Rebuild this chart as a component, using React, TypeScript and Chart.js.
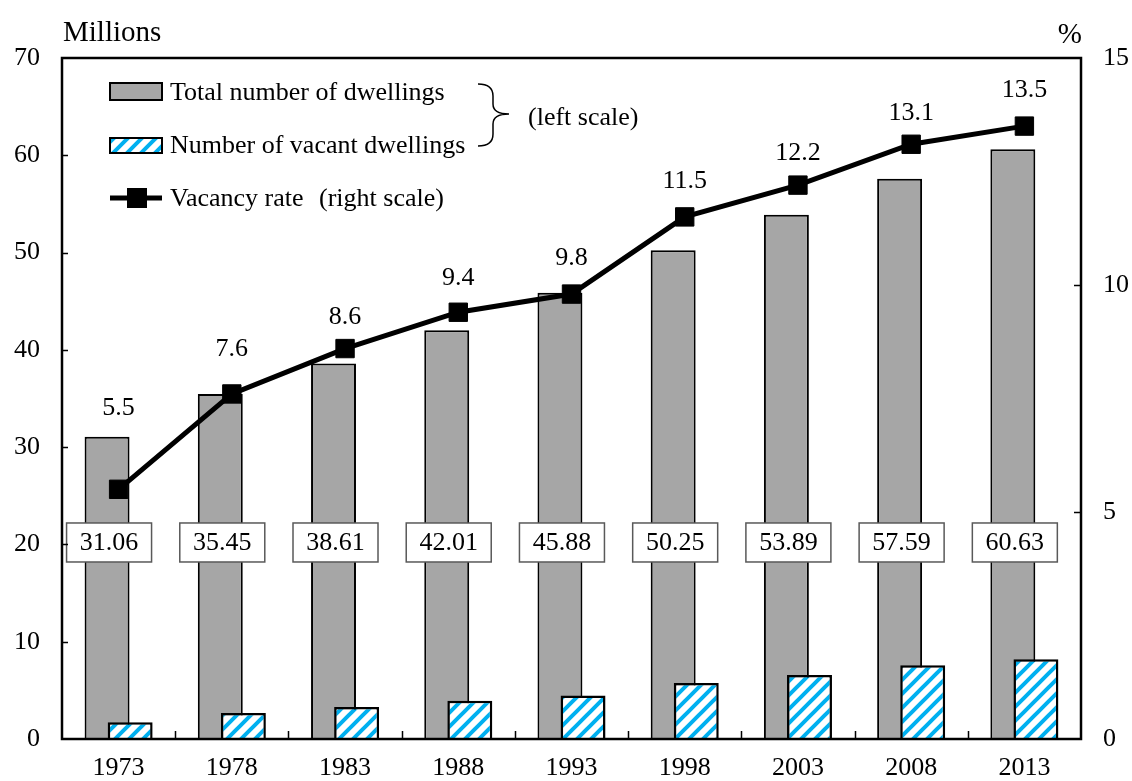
import React, { useEffect, useRef } from 'react';
import { Chart, registerables } from 'chart.js';

Chart.register(...registerables);

const years = [1973, 1978, 1983, 1988, 1993, 1998, 2003, 2008, 2013];
const totalDwellings = [31.06, 35.45, 38.61, 42.01, 45.88, 50.25, 53.89, 57.59, 60.63];
const vacantDwellings = [1.72, 2.68, 3.3, 3.94, 4.48, 5.76, 6.59, 7.57, 8.2];
const vacancyRate = [5.5, 7.6, 8.6, 9.4, 9.8, 11.5, 12.2, 13.1, 13.5];

const leftAxis = { min: 0, max: 70, step: 10, title: 'Millions' };
const rightAxis = { min: 0, max: 15, step: 5, title: '%' };

const legendLabels = ['Total number of dwellings', 'Number of vacant dwellings', 'Vacancy rate', '(right scale)'];
const braceLabel = '(left scale)';

const FONT_FAMILY = "'Liberation Serif', 'Times New Roman', serif";
const FONT = `26px ${FONT_FAMILY}`;
const TITLE_FONT = `29px ${FONT_FAMILY}`;
const GRAY = '#A6A6A6';
const BLUE = '#00B0F0';

// year spacing between categories and the sideways shift of each bar series (fraction of a category)
const YEAR_STEP = 5;
const BAR_SHIFT = 0.102;
const BAR_FRACTION = 0.397;

function makeHatch(): CanvasPattern | string {
  const s = 14;
  const c = document.createElement('canvas');
  c.width = s;
  c.height = s;
  const g = c.getContext('2d');
  if (!g) return '#ffffff';
  g.fillStyle = '#ffffff';
  g.fillRect(0, 0, s, s);
  g.strokeStyle = BLUE;
  g.lineWidth = 4;
  g.lineCap = 'square';
  for (const o of [-s, 0, s]) {
    g.beginPath();
    g.moveTo(o - 2, s + 2);
    g.lineTo(o + s + 2, -2);
    g.stroke();
  }
  const p = g.createPattern(c, 'repeat');
  return p || '#ffffff';
}

export default function App() {
  const ref = useRef<HTMLCanvasElement | null>(null);

  useEffect(() => {
    const canvas = ref.current;
    if (!canvas) return;
    const hatch = makeHatch();
    const firstYear = years[0];
    const lastYear = years[years.length - 1];
    const half = YEAR_STEP / 2;
    const shift = BAR_SHIFT * YEAR_STEP;

    const hiddenBarAxis = (delta: number) => ({
      type: 'linear',
      display: false,
      position: 'bottom',
      offset: false,
      min: firstYear - half + delta,
      max: lastYear + half + delta,
      grid: { display: false, offset: false },
      ticks: { stepSize: YEAR_STEP, includeBounds: false },
    });

    const overlay = {
      id: 'overlay',
      afterDatasetsDraw(chart: any) {
        const ctx = chart.ctx;
        const { left, right, top, bottom } = chart.chartArea;
        const yL = chart.scales.y;
        const yR = chart.scales.y1;
        const x = chart.scales.x;
        ctx.save();

        // value boxes for total dwellings
        const grayMeta = chart.getDatasetMeta(0);
        ctx.font = FONT;
        ctx.textAlign = 'center';
        ctx.textBaseline = 'middle';
        const boxY = yL.getPixelForValue(20.2);
        grayMeta.data.forEach((bar: any, i: number) => {
          const w = 85;
          const h = 39;
          const cx = bar.x + 2;
          ctx.fillStyle = '#ffffff';
          ctx.fillRect(cx - w / 2, boxY - h / 2, w, h);
          ctx.strokeStyle = '#595959';
          ctx.lineWidth = 1.5;
          ctx.strokeRect(cx - w / 2, boxY - h / 2, w, h);
          ctx.fillStyle = '#000000';
          ctx.fillText(totalDwellings[i].toFixed(2), cx, boxY + 1);
        });

        // vacancy rate labels
        const lineMeta = chart.getDatasetMeta(2);
        const offsets = [81, 45, 31, 34, 36, 36, 32, 31, 36];
        lineMeta.data.forEach((pt: any, i: number) => {
          ctx.fillText(vacancyRate[i].toFixed(1), pt.x, pt.y - offsets[i]);
        });

        // frame
        ctx.strokeStyle = '#000000';
        ctx.lineWidth = 2.5;
        ctx.strokeRect(left, top, right - left, bottom - top);

        // inward ticks
        ctx.lineWidth = 1.5;
        ctx.beginPath();
        for (let v = leftAxis.min + leftAxis.step; v < leftAxis.max; v += leftAxis.step) {
          const py = Math.round(yL.getPixelForValue(v)) + 0.5;
          ctx.moveTo(left, py);
          ctx.lineTo(left + 6, py);
        }
        for (let v = rightAxis.min + rightAxis.step; v < rightAxis.max; v += rightAxis.step) {
          const py = Math.round(yR.getPixelForValue(v)) + 0.5;
          ctx.moveTo(right, py);
          ctx.lineTo(right - 7, py);
        }
        for (let i = 0; i < years.length - 1; i++) {
          const px = Math.round((x.getPixelForValue(i) + x.getPixelForValue(i + 1)) / 2) + 0.5;
          ctx.moveTo(px, bottom);
          ctx.lineTo(px, bottom - 8);
        }
        ctx.stroke();

        // axis titles
        ctx.fillStyle = '#000000';
        ctx.font = TITLE_FONT;
        ctx.textBaseline = 'alphabetic';
        ctx.textAlign = 'left';
        ctx.fillText(leftAxis.title, left + 1, 41);
        ctx.textAlign = 'right';
        ctx.fillText(rightAxis.title, right + 1, 43);

        // legend
        ctx.font = FONT;
        ctx.textAlign = 'left';
        ctx.textBaseline = 'middle';
        const sx = 110;
        const sw = 52;
        ctx.fillStyle = GRAY;
        ctx.fillRect(sx, 83, sw, 17);
        ctx.strokeStyle = '#000000';
        ctx.lineWidth = 2;
        ctx.strokeRect(sx, 83, sw, 17);
        ctx.fillStyle = hatch as any;
        ctx.fillRect(sx, 138, sw, 15);
        ctx.strokeRect(sx, 138, sw, 15);
        ctx.lineWidth = 5;
        ctx.beginPath();
        ctx.moveTo(sx, 198);
        ctx.lineTo(sx + sw, 198);
        ctx.stroke();
        ctx.fillStyle = '#000000';
        ctx.fillRect(sx + 17, 188, 20, 20);
        ctx.fillText(legendLabels[0], 170, 93);
        ctx.fillText(legendLabels[1], 170, 146);
        ctx.fillText(legendLabels[2], 170, 199);
        ctx.fillText(legendLabels[3], 319, 199);

        // brace
        ctx.lineWidth = 1.5;
        ctx.beginPath();
        ctx.moveTo(478, 84);
        ctx.quadraticCurveTo(493, 84, 493, 96);
        ctx.lineTo(493, 104);
        ctx.quadraticCurveTo(493, 114, 509, 114);
        ctx.quadraticCurveTo(493, 114, 493, 124);
        ctx.lineTo(493, 134);
        ctx.quadraticCurveTo(493, 146, 478, 146);
        ctx.stroke();
        ctx.fillText(braceLabel, 528, 118);

        ctx.restore();
      },
    };

    const chart = new Chart(canvas, {
      type: 'bar',
      data: {
        labels: years,
        datasets: [
          {
            type: 'bar',
            label: legendLabels[0],
            data: totalDwellings,
            backgroundColor: GRAY,
            borderColor: '#000000',
            borderWidth: 2,
            xAxisID: 'xg',
            yAxisID: 'y',
            order: 2,
            grouped: false,
            categoryPercentage: 1,
            barPercentage: BAR_FRACTION,
          },
          {
            type: 'bar',
            label: legendLabels[1],
            data: vacantDwellings,
            backgroundColor: hatch as any,
            borderColor: '#000000',
            borderWidth: 2.5,
            xAxisID: 'xv',
            yAxisID: 'y',
            order: 1,
            grouped: false,
            categoryPercentage: 1,
            barPercentage: BAR_FRACTION,
          },
          {
            type: 'line',
            label: legendLabels[2],
            data: vacancyRate,
            borderColor: '#000000',
            backgroundColor: '#000000',
            borderWidth: 5,
            pointStyle: 'rect',
            pointRadius: 13,
            pointBorderWidth: 1,
            xAxisID: 'x',
            yAxisID: 'y1',
            order: 0,
          } as any,
        ],
      },
      options: {
        responsive: false,
        animation: false,
        layout: { padding: { top: 58, left: 0, right: 0, bottom: 0 } },
        plugins: { legend: { display: false }, tooltip: { enabled: false } },
        scales: {
          x: {
            type: 'category',
            offset: true,
            grid: { display: false, drawTicks: false },
            border: { display: false },
            ticks: { color: '#000000', font: { family: FONT_FAMILY, size: 26 }, padding: 14, maxRotation: 0 },
            afterFit: (s: any) => { s.height = 42; },
          },
          xg: hiddenBarAxis(shift) as any,
          xv: hiddenBarAxis(-shift) as any,
          y: {
            position: 'left',
            min: leftAxis.min,
            max: leftAxis.max,
            grid: { display: false, drawTicks: false },
            border: { display: false },
            ticks: { stepSize: leftAxis.step, color: '#000000', font: { family: FONT_FAMILY, size: 26 }, padding: 22 },
            afterFit: (s: any) => { s.width = 62; },
          },
          y1: {
            position: 'right',
            min: rightAxis.min,
            max: rightAxis.max,
            grid: { display: false, drawTicks: false },
            border: { display: false },
            ticks: { stepSize: rightAxis.step, color: '#000000', font: { family: FONT_FAMILY, size: 26 }, padding: 22 },
            afterFit: (s: any) => { s.width = 51; },
          },
        },
      },
      plugins: [overlay],
    });
    return () => chart.destroy();
  }, []);

  return (
    <div style={{ position: 'absolute', left: 0, top: 0, width: 1132, height: 781, background: '#ffffff' }}>
      <canvas ref={ref} width={1132} height={781} style={{ display: 'block' }} />
    </div>
  );
}
